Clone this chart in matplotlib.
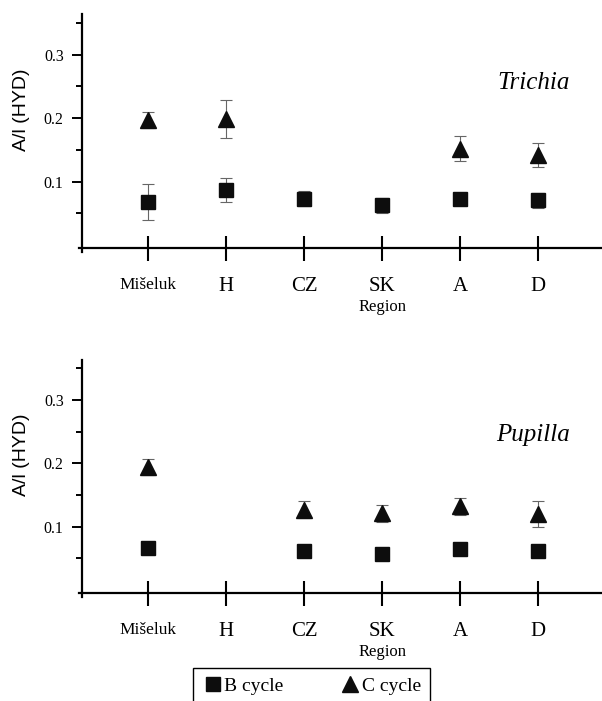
import numpy as np
import matplotlib
matplotlib.use("Agg")
import matplotlib.pyplot as plt
from matplotlib.lines import Line2D
import matplotlib.transforms as mtrans

# ---- data ----
regions = ["Mišeluk", "H", "CZ", "SK", "A", "D"]
trichia_b = [0.068, 0.087, 0.073, 0.063, 0.073, 0.0705]
trichia_b_err = [0.029, 0.019, 0.012, 0.012, 0.010, 0.012]
trichia_c = [0.197, 0.199, np.nan, np.nan, 0.152, 0.142]
trichia_c_err = [0.013, 0.030, np.nan, np.nan, 0.020, 0.019]
pupilla_b = [0.067, np.nan, 0.062, 0.057, 0.065, 0.062]
pupilla_b_err = [0.006, np.nan, 0.009, 0.009, 0.008, 0.009]
pupilla_c = [0.194, np.nan, 0.127, 0.121, 0.132, 0.120]
pupilla_c_err = [0.0125, np.nan, 0.013, 0.013, 0.013, 0.020]
yticks = [0.1, 0.2, 0.3]
yticklabels = ["0.1", "0.2", "0.3"]
minor_yticks = [0.05, 0.15, 0.25, 0.35]
taxa = ["Trichia", "Pupilla"]
legend_labels = ["B cycle", "C cycle"]
ylabel = "A/l (HYD)"
xlabel = "Region"

SERIF = "Liberation Serif"
SANS = "Liberation Sans"

W, H = 602, 701
fig = plt.figure(figsize=(W / 100, H / 100), dpi=100)

x = np.arange(1, len(regions) + 1)

def px_rect(left, top, right, bottom):
    return [left / W, 1 - bottom / H, (right - left) / W, (bottom - top) / H]

panels = [
    (px_rect(79, 14.1, 602, 252), trichia_b, trichia_b_err, trichia_c, trichia_c_err, taxa[0], 0.255),
    (px_rect(79, 359.6, 602, 596.8), pupilla_b, pupilla_b_err, pupilla_c, pupilla_c_err, taxa[1], 0.245),
]

for rect, b, be, c, ce, name, ty in panels:
    ax = fig.add_axes(rect)
    ax.set_facecolor("none")
    ax.errorbar(x, b, yerr=be, fmt="none", ecolor="#666666", elinewidth=0.8,
                capsize=4.3, capthick=0.8, zorder=2)
    ax.errorbar(x, c, yerr=ce, fmt="none", ecolor="#666666", elinewidth=0.8,
                capsize=4.3, capthick=0.8, zorder=2)
    ax.plot(x, b, linestyle="none", marker="s", markersize=10.5, color="#0d0d0d", zorder=3)
    ax.plot(x, c, linestyle="none", marker="^", markersize=12, color="#0d0d0d", zorder=3)

    ax.set_xlim(0.115, 6.82)
    ax.set_ylim(-0.0107, 0.364)
    for s in ["top", "right"]:
        ax.spines[s].set_visible(False)
    ax.spines["left"].set_position(("data", 0.15))
    ax.spines["bottom"].set_position(("data", -0.0044))
    ax.spines["left"].set_linewidth(1.6)
    ax.spines["bottom"].set_linewidth(1.6)

    ax.set_xticks(x)
    ax.set_xticklabels(regions, fontfamily=SERIF)
    for lab in ax.get_xticklabels():
        if lab.get_text() == "Mišeluk":
            lab.set_fontsize(12.5)
        else:
            lab.set_fontsize(15)
    ax.tick_params(axis="x", direction="inout", length=18, width=1.5, pad=12)

    ax.set_yticks(yticks)
    ax.set_yticklabels(yticklabels, fontfamily=SERIF, fontsize=11.5)
    ax.set_yticks(minor_yticks, minor=True)
    ax.tick_params(axis="y", which="major", direction="out", length=7, width=1.4, pad=6)
    ax.tick_params(axis="y", which="minor", direction="out", length=4, width=1.4)

    trans = mtrans.blended_transform_factory(ax.transData, ax.transAxes)
    ax.text(4, -0.233, xlabel, transform=trans, ha="center", va="center",
            fontfamily=SERIF, fontsize=12)
    ax.text(-0.109, 0.60, ylabel, transform=ax.transAxes, rotation=90,
            ha="center", va="center", fontfamily=SANS, fontsize=14)
    ax.text(5.94, ty, name, ha="center", va="center", fontfamily=SERIF,
            fontstyle="italic", fontsize=18)

handles = [
    Line2D([], [], linestyle="none", marker="s", markersize=10.5, color="#0d0d0d"),
    Line2D([], [], linestyle="none", marker="^", markersize=12, color="#0d0d0d"),
]
leg = fig.legend(handles, legend_labels, loc="upper left",
                 bbox_to_anchor=(193.3 / W, 1 - 668.3 / H), ncol=2,
                 prop={"family": SERIF, "size": 14}, frameon=True, fancybox=False,
                 edgecolor="black", framealpha=1, borderpad=0.45, handlelength=1.09,
                 handletextpad=0.05, columnspacing=2.9, borderaxespad=0)
leg.get_frame().set_linewidth(1.0)

fig.savefig("out.png", dpi=100)
